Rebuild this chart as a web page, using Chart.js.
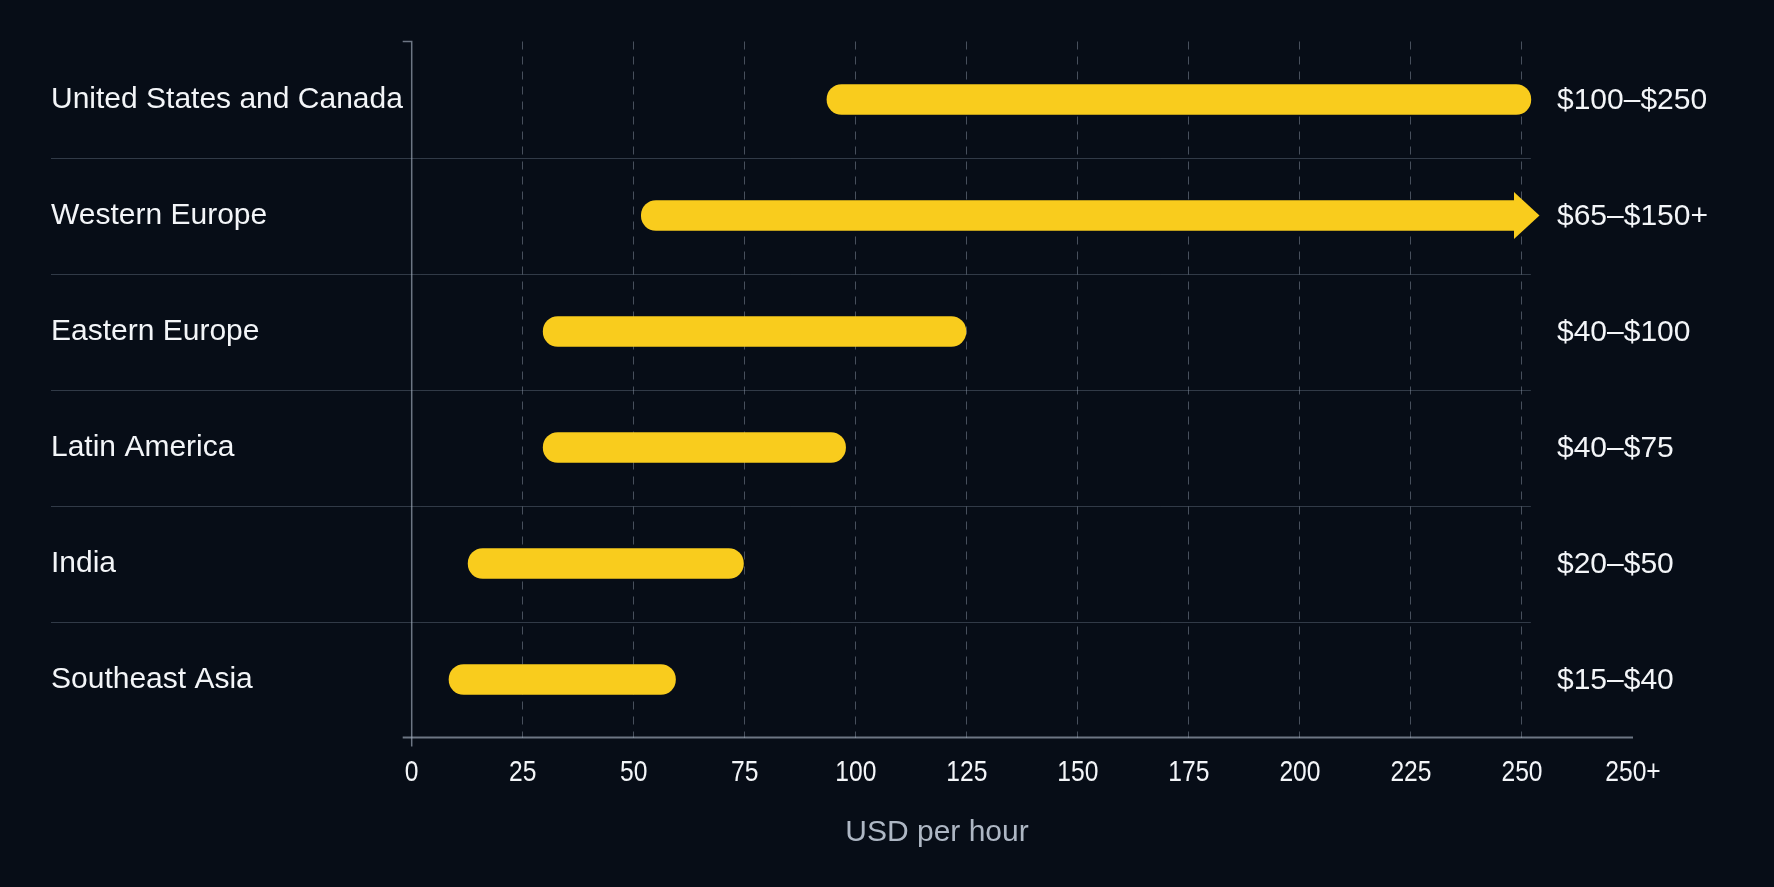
<!DOCTYPE html>
<html>
<head>
<meta charset="utf-8">
<script src="https://cdn.jsdelivr.net/npm/chart.js@4.4.1/dist/chart.umd.min.js"></script>
<style>
  html, body { margin: 0; padding: 0; background: #070d17; }
  #wrap { width: 1774px; height: 887px; position: relative; }
</style>
</head>
<body>
<div id="wrap"><canvas id="c"></canvas></div>
<script>
// ---- Data ----
const categories = ['United States and Canada', 'Western Europe', 'Eastern Europe', 'Latin America', 'India', 'Southeast Asia'];
const rangeLow  = [93.5, 51.7, 29.6, 29.6, 12.7, 8.4];
const rangeHigh = [252, 250, 124.8, 97.7, 74.7, 59.4];
const openEnded = [false, true, false, false, false, false];
const rangeLabels = ['$100–$250', '$65–$150+', '$40–$100', '$40–$75', '$20–$50', '$15–$40'];
const tickValues = [0, 25, 50, 75, 100, 125, 150, 175, 200, 225, 250, 275];
const tickLabels = ['0', '25', '50', '75', '100', '125', '150', '175', '200', '225', '250', '250+'];
const axisTitle = 'USD per hour';

// ---- Styles ----
const BG = '#070d17';
const BAR = '#f9cc1d';
const TEXT = '#f3f5f8';
const MUTED = '#aeb7c4';
const SEP = 'rgba(140,155,175,0.32)';
const AXIS = 'rgba(165,175,190,0.65)';
const GRID = 'rgba(160,172,188,0.42)';
const LABEL_FONT = "'Liberation Sans', Arial, sans-serif";

const decor = {
  id: 'decor',
  beforeDraw(chart) {
    const ctx = chart.ctx;
    ctx.save();
    ctx.fillStyle = BG;
    ctx.fillRect(0, 0, chart.width, chart.height);
    ctx.restore();
  },
  beforeDatasetsDraw(chart) {
    const ctx = chart.ctx;
    const x = chart.scales.x, y = chart.scales.y, a = chart.chartArea;
    ctx.save();
    // row separators
    ctx.strokeStyle = SEP;
    ctx.lineWidth = 1;
    const sepEnd = x.getPixelForValue(252);
    for (let i = 0; i < categories.length - 1; i++) {
      const yy = Math.round((y.getPixelForValue(i) + y.getPixelForValue(i + 1)) / 2) + 0.5;
      ctx.beginPath();
      ctx.moveTo(chart.options.layout.padding.left, yy);
      ctx.lineTo(sepEnd, yy);
      ctx.stroke();
    }
    // y axis line with small extensions
    ctx.strokeStyle = AXIS;
    ctx.lineWidth = 1.5;
    ctx.beginPath();
    ctx.moveTo(a.left - 9, a.top);
    ctx.lineTo(a.left, a.top);
    ctx.lineTo(a.left, a.bottom + 9);
    ctx.stroke();
    // x baseline
    ctx.lineWidth = 2.2;
    ctx.beginPath();
    ctx.moveTo(a.left - 9, a.bottom);
    ctx.lineTo(a.right, a.bottom);
    ctx.stroke();
    ctx.restore();
  },
  afterDatasetsDraw(chart) {
    const ctx = chart.ctx;
    const x = chart.scales.x, a = chart.chartArea;
    const meta = chart.getDatasetMeta(0);
    ctx.save();
    // arrow heads for open-ended ranges
    ctx.fillStyle = BAR;
    meta.data.forEach((bar, i) => {
      if (!openEnded[i]) return;
      const xe = x.getPixelForValue(rangeHigh[i]);
      ctx.beginPath();
      ctx.moveTo(xe - 8, bar.y - 23.5);
      ctx.lineTo(xe + 17.5, bar.y);
      ctx.lineTo(xe - 8, bar.y + 23.5);
      ctx.closePath();
      ctx.fill();
    });
    // range labels on the right
    ctx.fillStyle = TEXT;
    ctx.font = '30px ' + LABEL_FONT;
    ctx.textAlign = 'left';
    ctx.textBaseline = 'middle';
    meta.data.forEach((bar, i) => {
      ctx.fillText(rangeLabels[i], 1557, bar.y + 1);
    });
    // x tick labels (condensed rendering), positioned by the x scale
    ctx.textAlign = 'center';
    tickValues.forEach((v, i) => {
      const px = x.getPixelForValue(v);
      ctx.save();
      ctx.translate(px, a.bottom + 35);
      ctx.scale(0.82, 1);
      ctx.fillText(tickLabels[i], 0, 0);
      ctx.restore();
    });
    // axis title
    ctx.fillStyle = MUTED;
    ctx.textAlign = 'center';
    ctx.textBaseline = 'alphabetic';
    ctx.fillText(axisTitle, 937, 841);
    ctx.restore();
  }
};

const chart = new Chart(document.getElementById('c'), {
  type: 'bar',
  data: {
    labels: categories,
    datasets: [{
      data: categories.map((c, i) => [rangeLow[i], rangeHigh[i]]),
      backgroundColor: BAR,
      borderWidth: 0,
      borderSkipped: false,
      barThickness: 30,
      borderRadius: (ctx) => openEnded[ctx.dataIndex]
        ? { topLeft: 15, bottomLeft: 15, topRight: 0, bottomRight: 0 }
        : 15
    }]
  },
  options: {
    indexAxis: 'y',
    responsive: true,
    maintainAspectRatio: false,
    animation: false,
    layout: { padding: { left: 51, right: 141, top: 41.5, bottom: 0 } },
    plugins: { legend: { display: false }, tooltip: { enabled: false } },
    scales: {
      x: {
        type: 'linear',
        min: 0,
        max: 275,
        afterBuildTicks: (s) => { s.ticks = tickValues.map(v => ({ value: v })); },
        afterFit: (s) => { s.height = 149.5; },
        ticks: {
          display: false,
          autoSkip: false,
          maxRotation: 0,
          callback: (v, i) => tickLabels[i]
        },
        grid: {
          drawTicks: false,
          lineWidth: 1,
          color: (c) => (c.tick && (c.tick.value === 0 || c.tick.value === 275)) ? 'rgba(0,0,0,0)' : GRID
        },
        border: { display: false, dash: [8, 7] }
      },
      y: {
        type: 'category',
        afterFit: (s) => { s.width = 360.7; },
        ticks: {
          crossAlign: 'far',
          color: TEXT,
          font: { family: LABEL_FONT, size: 30 }
        },
        grid: { display: false, drawTicks: false },
        border: { display: false }
      }
    }
  },
  plugins: [decor]
});
</script>
</body>
</html>
